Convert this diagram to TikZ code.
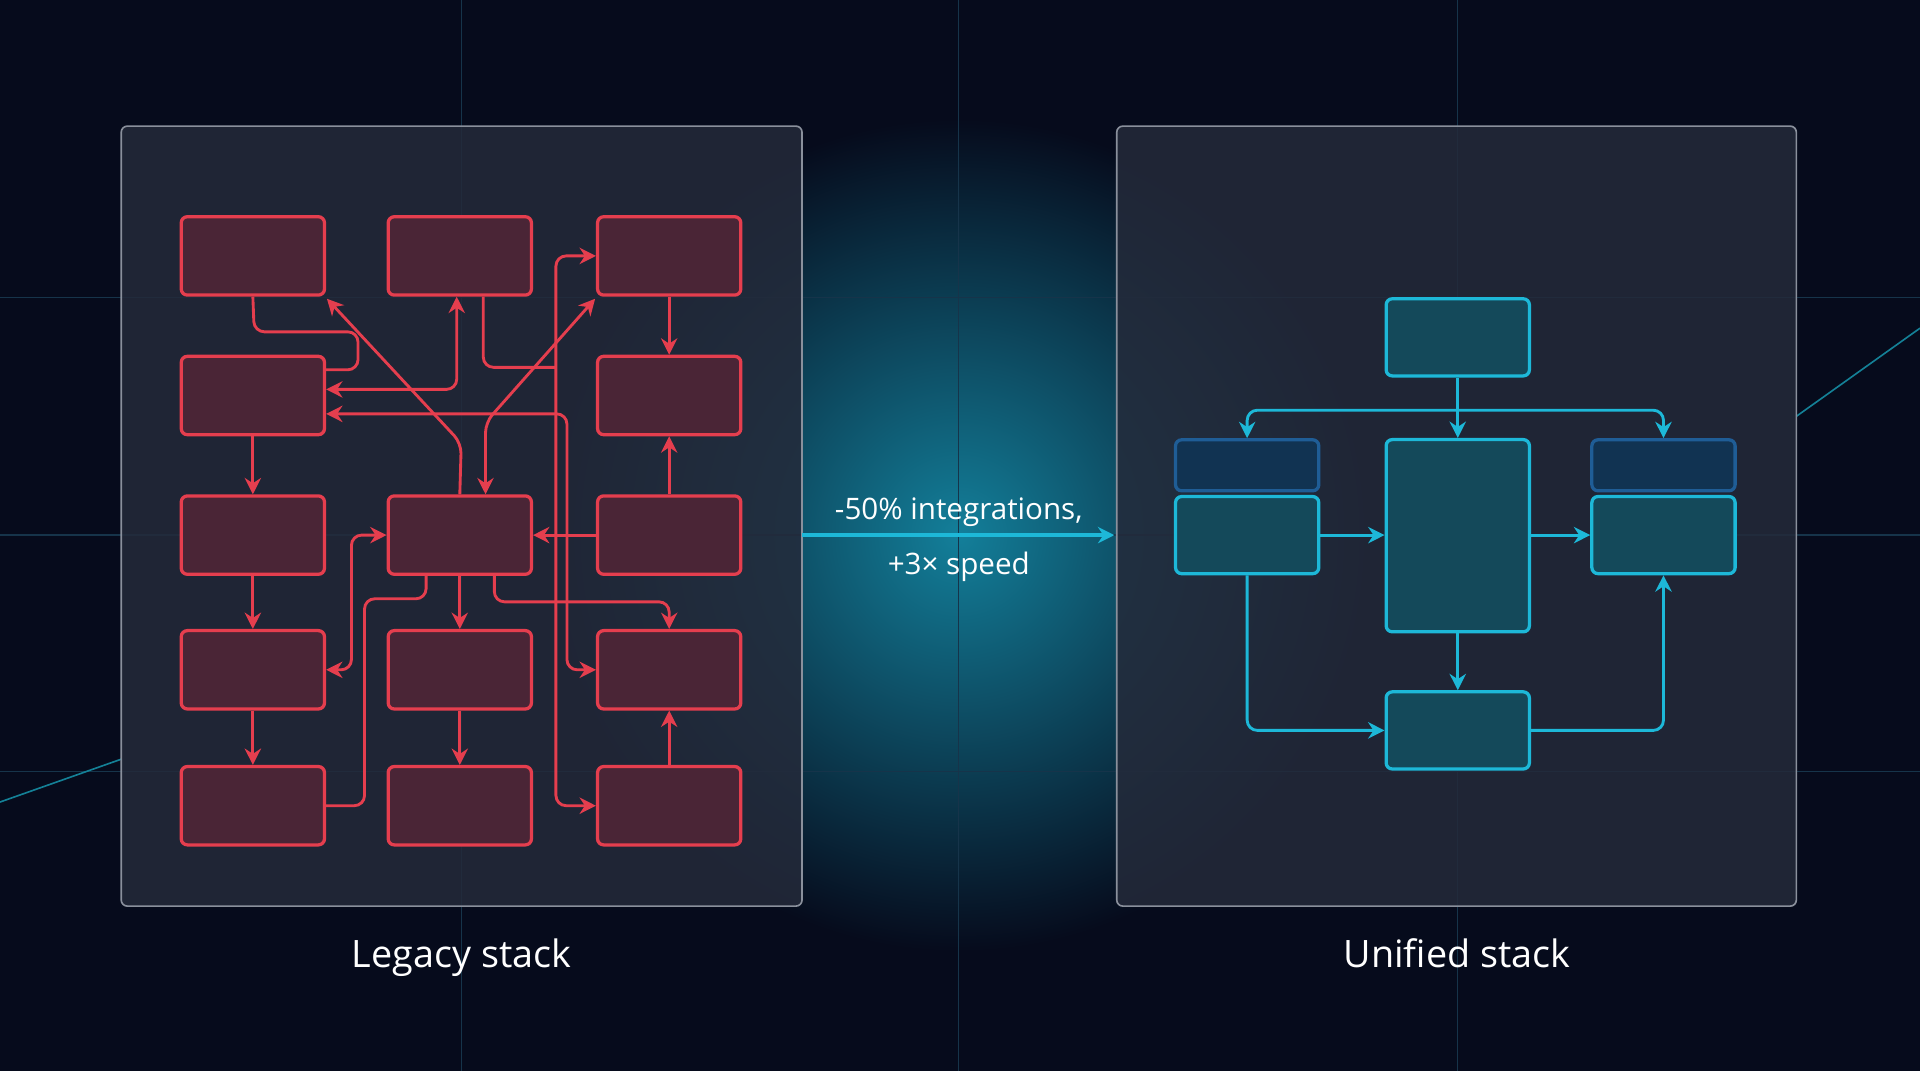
\documentclass[tikz,border=0pt]{standalone}
\usepackage{fontspec}
\setmainfont{Open Sans}
\usetikzlibrary{arrows.meta,calc}
\definecolor{bg}{HTML}{060B1C}
\definecolor{glow}{HTML}{137F9A}
\definecolor{pan}{HTML}{242A3A}
\definecolor{panb}{HTML}{8A909C}
\definecolor{rd}{HTML}{E53E4E}
\definecolor{rdf}{HTML}{4A2536}
\definecolor{cy}{HTML}{1DB8D8}
\definecolor{cyf}{HTML}{14495A}
\definecolor{hd}{HTML}{1F5D96}
\definecolor{grid}{HTML}{16344A}
\tikzset{
 lb/.style={draw=rd,fill=rdf,line width=1.6pt,rounded corners=3pt,minimum width=70.2pt,minimum height=38.4pt,inner sep=0pt},
 cb/.style={draw=cy,fill=cyf,line width=1.6pt,rounded corners=3pt,minimum width=70.2pt,minimum height=37.8pt,inner sep=0pt},
 hb/.style={draw=hd,fill=hd!55!black,line width=1.6pt,rounded corners=3pt,minimum width=70.2pt,minimum height=25pt,inner sep=0pt},
 rl/.style={draw=rd,line width=1.4pt,rounded corners=5pt},
 cl/.style={draw=cy,line width=1.4pt,rounded corners=5pt},
 tip/.style={-{Stealth[length=8pt,width=8pt]}},
 tips/.style={{Stealth[length=8pt,width=8pt]}-{Stealth[length=8pt,width=8pt]}},
 pnl/.style={draw=panb,fill=pan,fill opacity=0.85,line width=0.8pt,rounded corners=3pt},
 lab/.style={text=white,anchor=base},
}
\begin{document}
\begin{tikzpicture}[x=0.6pt,y=-0.6pt]
\useasboundingbox (0,0) rectangle (1568,875);
\fill[bg] (0,0) rectangle (1568,875);
\shade[inner color=glow,outer color=bg] (783,437) ellipse (340 and 340);
% grid
\foreach \x in {377,783,1190} \draw[grid,line width=0.6pt] (\x,0) -- (\x,875);
\foreach \y in {243,437,630} \draw[grid,line width=0.6pt] (0,\y) -- (1568,\y);
\draw[cy!70!black,line width=0.8pt] (0,655) -- (99,620);
\draw[cy!70!black,line width=0.8pt] (1467,340) -- (1568,268);
% panels
\draw[pnl] (99,103) rectangle (655,740);
\draw[pnl] (912,103) rectangle (1467,740);
% left boxes
\foreach \c/\x in {1/206.5,3/546.5}
 \foreach \r/\y in {1/209,2/323,3/437,4/547,5/658}
  \node[lb] (b\r\c) at (\x,\y) {};
\foreach \r/\y in {1/209,3/437,4/547,5/658}
  \node[lb] (b\r2) at (375.5,\y) {};
% left connectors
\draw[rl] (b11.south) -- (207.6,271) -- (292.4,271) -- (292.4,302) -- (b21.east |- 0,302);
\draw[rl,tip] (b32.north) -- (376.7,362) -- (267,244);
\draw[rl,tips] (b21.east |- 0,318) -- (373,318) -- (b12.south -| 373,0);
\draw[rl,tips] (b21.east |- 0,338) -- (463,338) -- (463,547) -- (b43.west);
\draw[rl] (b12.south -| 394.7,0) -- (394.7,300) -- (454,300);
\draw[rl,tips] (b13.west) -- (454,209) -- (454,658) -- (b53.west);
\draw[rl,tips] (b32.north -| 396.5,0) -- (396.5,345) -- (486,244);
\draw[rl,tip] (b33.west) -- (b32.east);
\draw[rl,tip] (b13.south) -- (b23.north);
\draw[rl,tip] (b33.north) -- (b23.south);
\draw[rl,tip] (b53.north) -- (b43.south);
\draw[rl,tip] (b21.south) -- (b31.north);
\draw[rl,tip] (b31.south) -- (b41.north);
\draw[rl,tip] (b41.south) -- (b51.north);
\draw[rl,tip] (b32.south) -- (b42.north);
\draw[rl,tip] (b42.south) -- (b52.north);
\draw[rl] (b32.south -| 348,0) -- (348,489) -- (297.7,489) -- (297.7,658) -- (b51.east);
\draw[rl,tips] (b32.west) -- (287,437) -- (287,547) -- (b41.east);
\draw[rl,tip] (b32.south -| 403.7,0) -- (403.7,491.5) -- (546.5,491.5) -- (b43.north);
% right boxes
\node[cb] (T) at (1190.5,275.5) {};
\node[hb] (LH) at (1018.5,380) {};
\node[hb] (RH) at (1358.5,380) {};
\node[cb] (L) at (1018.5,437) {};
\node[cb] (R) at (1358.5,437) {};
\node[cb,minimum height=94.2pt] (M) at (1190.5,437.5) {};
\node[cb] (B) at (1190.5,596.5) {};
\coordinate (J) at (1190.5,335);
\draw[cl] (T.south) -- (J);
\draw[cl,tip] (J) -- (1018.5,335) -- (LH.north);
\draw[cl,tip] (J) -- (1358.5,335) -- (RH.north);
\draw[cl,tip] (J) -- (M.north);
\draw[cl,tip] (L.east) -- (M.west |- L.east);
\draw[cl,tip] (M.east |- R.west) -- (R.west);
\draw[cl,tip] (M.south) -- (B.north);
\draw[cl,tip] (L.south) |- (B.west);
\draw[cl,tip] (B.east) -| (R.south);
% main arrow
\coordinate (P1) at (655,437);
\coordinate (P2) at (910,437);
\draw[cy,line width=1.6pt,tip] (P1) -- (P2);
\node[lab,font=\fontsize{14.5}{17}\selectfont] (t1) at (783,424) {-50\% integrations,};
\node[lab,font=\fontsize{14.5}{17}\selectfont] (t2) at (783,469) {+3× speed};
\node[lab,font=\fontsize{18.5}{22}\selectfont] (c1) at (377,790) {Legacy stack};
\node[lab,font=\fontsize{18.5}{22}\selectfont] (c2) at (1190,790) {Unified stack};
\end{tikzpicture}
\end{document}
